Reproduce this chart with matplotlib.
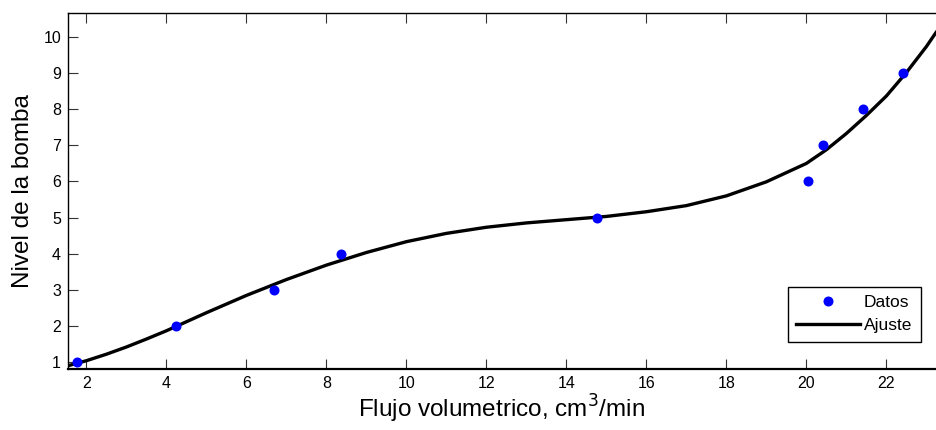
import matplotlib
matplotlib.use("Agg")
import matplotlib.pyplot as plt

# Data points
flujo = [1.76, 4.25, 6.70, 8.36, 14.76, 20.05, 20.41, 21.42, 22.42]
nivel = [1, 2, 3, 4, 5, 6, 7, 8, 9]

# Fitted curve
ajuste_x = [1.54, 2, 2.5, 3, 3.5, 4, 5, 6, 7, 8, 9, 10, 11, 12, 13, 14, 15, 16,
            17, 18, 19, 20, 20.5, 21, 21.5, 22, 22.5, 23, 23.24]
ajuste_y = [0.89, 1.03, 1.21, 1.41, 1.63, 1.86, 2.36, 2.84, 3.28, 3.68, 4.03,
            4.33, 4.56, 4.73, 4.85, 4.94, 5.03, 5.16, 5.33, 5.60, 5.99, 6.50,
            6.88, 7.33, 7.83, 8.37, 9.02, 9.74, 10.13]

xticks = [2, 4, 6, 8, 10, 12, 14, 16, 18, 20, 22]
yticks = [1, 2, 3, 4, 5, 6, 7, 8, 9, 10]

plt.rcParams['font.family'] = ['Liberation Sans', 'DejaVu Sans']

fig = plt.figure(figsize=(9.36, 4.30), dpi=100)
ax = fig.add_axes([68/936, 61/430, 868/936, 356/430])

ax.plot(flujo, nivel, 'o', color='#0000ff', ms=6.2, mec='#0000ff', label='Datos', zorder=3)
ax.plot(ajuste_x, ajuste_y, '-', color='black', lw=2.4, label='Ajuste', zorder=2,
        solid_joinstyle='round')

ax.set_xlim(1.54, 23.24)
ax.set_ylim(0.8, 10.67)
ax.set_xticks(xticks)
ax.set_yticks(yticks)
ax.tick_params(direction='in', length=7, width=0.8, top=True, right=False,
               labelsize=11.5, color='#333333', pad=5)
for s in ['left', 'bottom', 'top']:
    ax.spines[s].set_linewidth(1.0)
ax.spines['bottom'].set_linewidth(1.6)
ax.spines['right'].set_visible(False)

ax.set_xlabel('Flujo volumetrico, cm$^3$/min', fontsize=17.5, labelpad=1)
ax.set_ylabel('Nivel de la bomba', fontsize=17.5, labelpad=7)

leg = ax.legend(loc='lower right', bbox_to_anchor=(0.9827, 0.0758), fontsize=12.5,
                fancybox=False, edgecolor='black', framealpha=1,
                handlelength=3.7, borderpad=0.5, labelspacing=0.45,
                handletextpad=0.2, borderaxespad=0)
leg.get_frame().set_linewidth(1.0)

fig.savefig('out.png', dpi=100)
